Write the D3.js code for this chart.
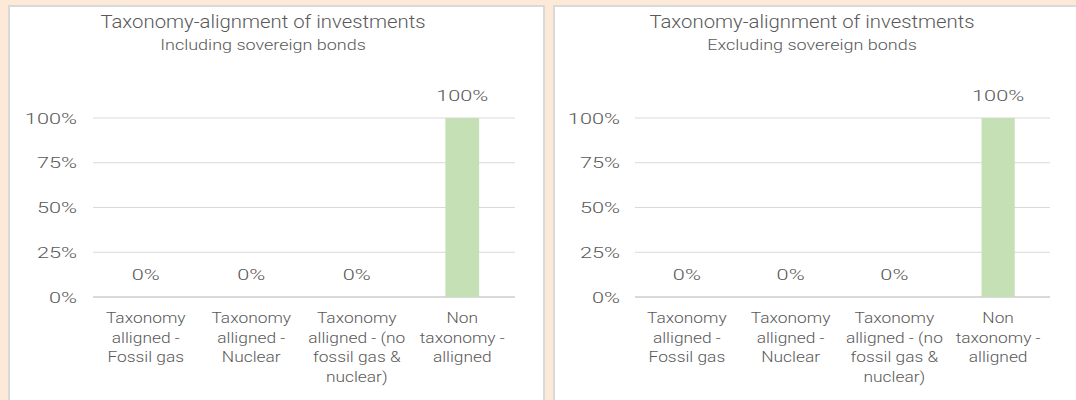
<!DOCTYPE html>
<html>
<head>
<meta charset="utf-8">
<script src="https://cdn.jsdelivr.net/npm/d3@7"></script>
<style>
  body { margin: 0; background: #fce9d8; }
  svg { display: block; }
  text { font-family: Roboto, "Noto Sans", sans-serif; fill: #595959; font-weight: 300; }
</style>
</head>
<body>
<div id="chart"></div>
<script>
var categories = [
  ["Taxonomy", "alligned -", "Fossil gas"],
  ["Taxonomy", "alligned -", "Nuclear"],
  ["Taxonomy", "alligned - (no", "fossil gas &", "nuclear)"],
  ["Non", "taxonomy -", "alligned"]
];
var includingValues = [0, 0, 0, 100];
var excludingValues = [0, 0, 0, 100];
var yTicks = [0, 25, 50, 75, 100];
var chartTitle = "Taxonomy-alignment of investments";
var subtitles = ["Including sovereign bonds", "Excluding sovereign bonds"];

var W = 1076, H = 400;
var svg = d3.select("#chart").append("svg").attr("width", W).attr("height", H);

// the source font is a wide DIN-like face, so text is stretched a bit sideways
function label(g, x, y, str, size, sx, anchor){
  return g.append("text")
    .attr("transform", "translate(" + x + "," + y + ") scale(" + sx + ",1)")
    .attr("text-anchor", anchor || "middle")
    .style("font-size", size + "px")
    .text(str);
}

var panels = [
  { x: 9, w: 535, values: includingValues, sub: subtitles[0], x0: 93, x1: 515, lab: 77, tx: 263 },
  { x: 554, w: 530, values: excludingValues, sub: subtitles[1], x0: 635, x1: 1050, lab: 620, tx: 812 }
];

var yScale = d3.scaleLinear().domain([0, 100]).range([297, 118]);

panels.forEach(function(p){
  var g = svg.append("g");
  g.append("rect")
    .attr("x", p.x).attr("y", 6)
    .attr("width", p.w).attr("height", H)
    .attr("fill", "#fff")
    .attr("stroke", "#d9d9d9").attr("stroke-width", 2);

  label(g, p.tx, 28, chartTitle, 18, 1.13);
  label(g, p.tx, 50, p.sub, 15, 1.2);

  var xScale = d3.scaleBand()
    .domain(d3.range(categories.length))
    .range([p.x0, p.x1])
    .paddingInner(0.68).paddingOuter(0.34);

  g.selectAll(".grid").data(yTicks).enter().append("line")
    .attr("x1", p.x0).attr("x2", p.x1)
    .attr("y1", d => yScale(d)).attr("y2", d => yScale(d))
    .attr("stroke", "#d9d9d9").attr("stroke-width", d => d === 0 ? 2 : 1.2);

  yTicks.forEach(function(d){
    label(g, p.lab, yScale(d) + 5.5, d + "%", 15.5, 1.4, "end");
  });

  g.selectAll(".bar").data(p.values).enter().append("rect")
    .attr("x", (d, i) => xScale(i))
    .attr("y", d => yScale(d))
    .attr("width", xScale.bandwidth())
    .attr("height", d => yScale(0) - yScale(d))
    .attr("fill", "#c5e0b4");

  p.values.forEach(function(d, i){
    var cx = xScale(i) + xScale.bandwidth() / 2;
    label(g, cx, d === 0 ? 280 : yScale(d) - 17, d + "%", 15.5, 1.4);
  });

  categories.forEach(function(lines, i){
    var cx = xScale(i) + xScale.bandwidth() / 2;
    lines.forEach(function(l, k){
      label(g, cx, 323 + k * 19.5, l, 15.5, 1.12);
    });
  });
});
</script>
</body>
</html>
